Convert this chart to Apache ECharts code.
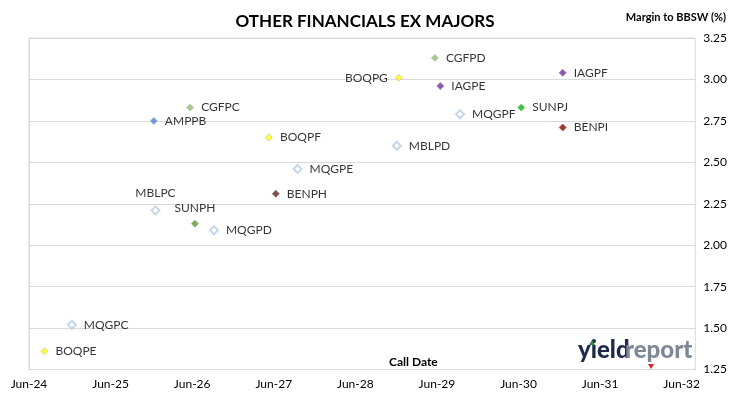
<!DOCTYPE html>
<html>
<head>
<meta charset="utf-8">
<script src="https://cdn.jsdelivr.net/npm/echarts@6/dist/echarts.min.js"></script>
<style>
html,body{margin:0;padding:0;background:#fff;}
#chart{width:730px;height:399px;}
</style>
</head>
<body>
<div id="chart"></div>
<script>
// ---- Data ----
const securities = ['BOQPE','MQGPC','AMPPB','MBLPC','CGFPC','SUNPH','MQGPD','BOQPF','BENPH','MQGPE','MBLPD','BOQPG','CGFPD','IAGPE','MQGPF','SUNPJ','IAGPF','BENPI'];
const callDates  = ['2024-08-09','2024-12-10','2025-12-12','2025-12-19','2026-05-22','2026-06-13','2026-09-07','2027-05-10','2027-06-10','2027-09-16','2028-12-04','2028-12-13','2029-05-22','2029-06-16','2029-09-13','2030-06-13','2030-12-16','2030-12-16'];
const margins    = [1.36, 1.52, 2.75, 2.21, 2.83, 2.13, 2.09, 2.65, 2.31, 2.46, 2.60, 3.01, 3.13, 2.96, 2.79, 2.83, 3.04, 2.71];
const yTicks = [1.25, 1.50, 1.75, 2.00, 2.25, 2.50, 2.75, 3.00, 3.25];
const xTickLabels = ['Jun-24','Jun-25','Jun-26','Jun-27','Jun-28','Jun-29','Jun-30','Jun-31','Jun-32'];

// ---- Styles (kept separate from data) ----
const hollow = {color:'#ffffff', borderColor:'#B9CDE5', borderWidth:2};
const styleMap = {
  BOQPE:{color:'#FFFF00', borderColor:'#C9C9A0', borderWidth:1},
  BOQPF:{color:'#FFFF00', borderColor:'#C9C9A0', borderWidth:1},
  BOQPG:{color:'#FFFF00', borderColor:'#C9C9A0', borderWidth:1},
  MQGPC:hollow, MQGPD:hollow, MQGPE:hollow, MQGPF:hollow, MBLPC:hollow, MBLPD:hollow,
  AMPPB:{color:'#4F81BD', borderColor:'#8DB0DC', borderWidth:1},
  CGFPC:{color:'#9BBB59', borderColor:'#A9C4D8', borderWidth:1},
  CGFPD:{color:'#9BBB59', borderColor:'#A9C4D8', borderWidth:1},
  SUNPH:{color:'#5E9838', borderColor:'#8DB07A', borderWidth:1},
  SUNPJ:{color:'#10B010', borderColor:'#60C860', borderWidth:1},
  IAGPE:{color:'#7030A0', borderColor:'#9A70BC', borderWidth:1},
  IAGPF:{color:'#7030A0', borderColor:'#9A70BC', borderWidth:1},
  BENPH:{color:'#5A2424', borderColor:'#8A6060', borderWidth:1},
  BENPI:{color:'#8B0000', borderColor:'#B05050', borderWidth:1}
};
const labelPos = {MBLPC:'top', SUNPH:'top', BOQPG:'left'};
const symSize = {hollow:8, solid:7};

// months since Jun-24
function monthsFrom(d){
  const p = d.split('-').map(Number);
  return (p[0]-2024)*12 + (p[1]-6) + (p[2]-1)/30;
}

const seriesData = securities.map((s,i)=>{
  const st = styleMap[s];
  const pos = labelPos[s] || 'right';
  return {
    name:s,
    value:[monthsFrom(callDates[i]), margins[i]],
    symbolSize: st===hollow ? symSize.hollow : symSize.solid,
    itemStyle: st,
    label:{show:true, position:pos, distance: pos==='top'?6:7, formatter:s}
  };
});

const chart = echarts.init(document.getElementById('chart'), null, {renderer:'canvas'});
const FONT = 'Lato, "Liberation Sans", sans-serif';
chart.setOption({
  animation:false,
  backgroundColor:'#ffffff',
  textStyle:{fontFamily:FONT},
  title:{
    text:'OTHER FINANCIALS EX MAJORS',
    left:'center', top:8,
    textStyle:{fontFamily:FONT, fontWeight:'bold', fontSize:17, color:'#000'}
  },
  grid:{left:29, right:33, top:38, bottom:29.5, show:true, borderColor:'#D9D9D9', borderWidth:1, containLabel:false},
  xAxis:{
    type:'value', min:0, max:98, interval:12,
    axisLine:{show:true, lineStyle:{color:'#D9D9D9'}},
    axisTick:{show:false},
    splitLine:{show:false},
    axisLabel:{
      showMaxLabel:false, margin:9, color:'#000', fontSize:12, fontFamily:FONT,
      formatter:function(v){ const k = Math.round(v/12); return (v%12===0 && xTickLabels[k]) ? xTickLabels[k] : ''; }
    }
  },
  yAxis:{
    type:'value', position:'right', min:yTicks[0], max:yTicks[yTicks.length-1], interval:0.25,
    axisLine:{show:true, lineStyle:{color:'#D9D9D9'}},
    axisTick:{show:true, length:4, lineStyle:{color:'#D9D9D9'}},
    splitLine:{show:true, lineStyle:{color:'#D9D9D9', width:1}},
    axisLabel:{margin:8, color:'#000', fontSize:12, fontFamily:FONT, formatter:v=>v.toFixed(2)}
  },
  series:[{
    type:'scatter',
    symbol:'diamond',
    data:seriesData,
    label:{color:'#000', fontSize:12, fontFamily:FONT},
    emphasis:{disabled:true}
  }],
  graphic:[
    {type:'text', right:4, top:12, style:{text:'Margin to BBSW (%)', font:'bold 11px '+FONT, fill:'#000'}},
    {type:'text', left:389, top:356, style:{text:'Call Date', font:'bold 12px '+FONT, fill:'#000'}},
    {type:'group', left:578, top:338, children:[
      {type:'text', x:0, y:0, style:{text:'yield', font:'900 24px '+FONT, fill:'#1E2A4A'}},
      {type:'text', x:47, y:0, style:{text:'report', font:'900 24px '+FONT, fill:'#7D8796'}},
      {type:'polygon', shape:{points:[[14,2],[17,7],[11,7]]}, style:{fill:'#2E8B3E'}},
      {type:'polygon', shape:{points:[[70,26],[76,26],[73,31]]}, style:{fill:'#E02020'}}
    ]}
  ]
});
</script>
</body>
</html>
